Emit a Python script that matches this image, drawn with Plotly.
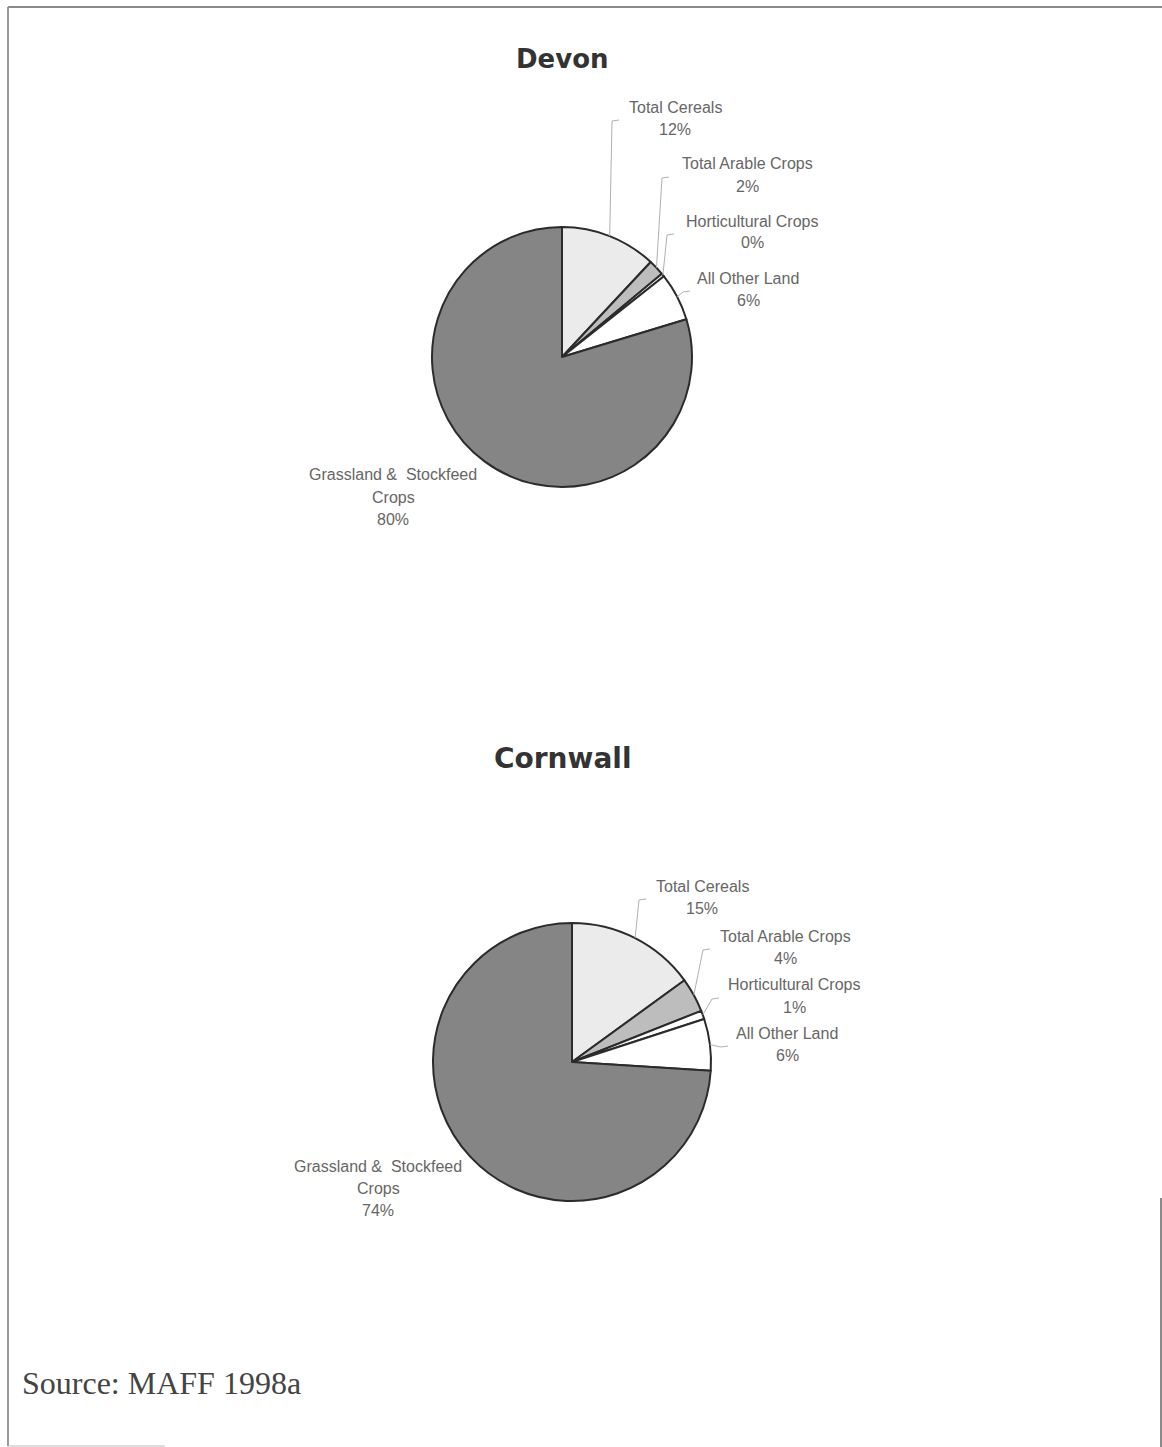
import math
import plotly.graph_objects as go

# ---- data -------------------------------------------------------------
categories = ["Total Cereals", "Total Arable Crops", "Horticultural Crops",
              "All Other Land", "Grassland & Stockfeed Crops"]
devon_values = [12.0, 2.0, 0.4, 6.0, 80.0]
cornwall_values = [15.0, 4.0, 1.0, 6.0, 74.0]
slice_colors = ["#ebebeb", "#bdbdbd", "#ffffff", "#ffffff", "#858585"]

W, H = 1162, 1447


def px(x):
    return x / W


def py(y):
    return 1 - y / H


# pie boxes in page pixels: (left, top, size)
charts = [
    dict(title="Devon", values=devon_values, box=(432, 227, 260),
         title_xy=(562, 59), title_size=26,
         # label placement: (centre x, first-line y, left edge of text)
         labels=[(675, 107, 626), (747, 164, 676), (752, 221, 681),
                 (748, 278, 697), (393, 475, None)]),
    dict(title="Cornwall", values=cornwall_values, box=(433, 923, 278),
         title_xy=(562, 759), title_size=28,
         labels=[(702, 886, 653), (785, 936, 717), (794, 985, 726),
                 (787, 1033, 735), (378, 1166, None)]),
]

fig = go.Figure()
annotations = []
shapes = []
label_font = dict(family="Liberation Sans, Arial", size=16, color="#666666")
line_gap = 22

for ch in charts:
    left, top, size = ch["box"]
    fig.add_trace(go.Pie(
        labels=categories, values=ch["values"], sort=False,
        direction="clockwise", rotation=0, textinfo="none",
        hoverinfo="label+percent",
        marker=dict(colors=slice_colors, line=dict(color="#2b2b2b", width=2)),
        domain=dict(x=[px(left), px(left + size)], y=[py(top + size), py(top)]),
        showlegend=False,
    ))
    annotations.append(dict(
        text=f"<b>{ch['title']}</b>", x=px(ch["title_xy"][0]), y=py(ch["title_xy"][1]),
        xref="paper", yref="paper", showarrow=False, xanchor="center", yanchor="middle",
        font=dict(family="DejaVu Sans, Arial", size=ch["title_size"], color="#333333"),
    ))

    cx, cy, r = left + size / 2, top + size / 2, size / 2
    total = sum(ch["values"])
    cum = 0.0
    for name, val, (lx, ly, ledge) in zip(categories, ch["values"], ch["labels"]):
        mid = (cum + val / 2) / total * 2 * math.pi
        cum += val
        pct = f"{round(val / total * 100)}%"
        if name.startswith("Grassland"):
            lines = ["Grassland &  Stockfeed", "Crops", pct]
        else:
            lines = [name, pct]
        for i, t in enumerate(lines):
            annotations.append(dict(
                text=t, x=px(lx), y=py(ly + i * line_gap), xref="paper", yref="paper",
                showarrow=False, xanchor="center", yanchor="middle", font=label_font,
            ))
        if ledge is not None:
            ex, ey = cx + r * math.sin(mid), cy - r * math.cos(mid)
            bx, by = ledge - 14, ly + 14
            path = (f"M {px(ex)},{py(ey)} L {px(bx)},{py(by)} "
                    f"L {px(bx + 7)},{py(by - 1)}")
            shapes.append(dict(type="path", path=path, xref="paper", yref="paper",
                               line=dict(color="#b0b0b0", width=1)))

# source note
annotations.append(dict(
    text="Source: MAFF 1998a", x=px(20), y=py(1383), xref="paper", yref="paper",
    showarrow=False, xanchor="left", yanchor="middle",
    font=dict(family="Liberation Serif, Times New Roman", size=32, color="#444444"),
))

# page frame
frame = [((8, 7), (1162, 7), "#8a8a8a", 2), ((8, 7), (8, 1446), "#9a9a9a", 2),
         ((1161, 1198), (1161, 1447), "#8a8a8a", 2), ((8, 1446), (165, 1446), "#bbbbbb", 1)]
for (x0, y0), (x1, y1), c, w in frame:
    shapes.append(dict(type="line", x0=px(x0), y0=py(y0), x1=px(x1), y1=py(y1),
                       xref="paper", yref="paper", line=dict(color=c, width=w)))

fig.update_layout(
    width=W, height=H, margin=dict(l=0, r=0, t=0, b=0),
    paper_bgcolor="white", plot_bgcolor="white",
    annotations=annotations, shapes=shapes,
)

fig.write_html("out.html")
